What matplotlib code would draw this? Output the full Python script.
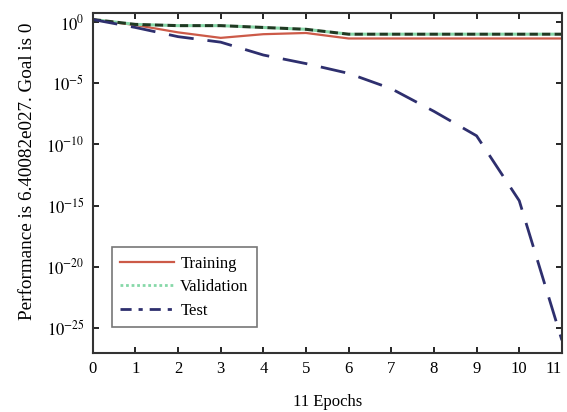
import numpy as np
import matplotlib
matplotlib.use("Agg")
import matplotlib.pyplot as plt
from matplotlib.lines import Line2D
from matplotlib.ticker import FixedLocator, FuncFormatter

plt.rcParams['font.family'] = ['Liberation Serif', 'DejaVu Serif']
plt.rcParams['mathtext.fontset'] = 'stix'
plt.rcParams['lines.scale_dashes'] = False

epochs = [0, 1, 2, 3, 4, 5, 6, 7, 8, 9, 10, 11]
# log10 of performance values
train_log = [0.2, -0.25, -0.85, -1.3, -1.0, -0.9, -1.35, -1.35, -1.35, -1.35, -1.35, -1.35]
val_log = [0.2, -0.2, -0.3, -0.3, -0.45, -0.6, -1.0, -1.0, -1.0, -1.0, -1.0, -1.0]
test_log = [0.2, -0.45, -1.2, -1.65, -2.7, -3.4, -4.2, -5.45, -7.3, -9.3, -14.6, -26.0]
ytick_exps = [0, -5, -10, -15, -20, -25]
xticks = list(range(12))

train = 10.0 ** np.array(train_log)
val = 10.0 ** np.array(val_log)
test = 10.0 ** np.array(test_log)

fig = plt.figure(figsize=(5.67, 4.12), dpi=100)
ax = fig.add_axes([0.1635, 0.1432, 0.8275, 0.8252])

c_train = '#cc5a48'
c_val = '#86d8a8'
c_test = '#2e2f6e'

ax.plot(epochs, train, color=c_train, lw=1.6)
ax.plot(epochs, val, color='#1f3a22', lw=2.2, linestyle=(0, (6, 3)), gapcolor=c_val)
ax.plot(epochs, test, color=c_test, lw=2.0, linestyle=(0, (18, 10)))

ax.set_yscale('log')
ax.set_xlim(0, 11)
ax.set_ylim(10 ** -27.04, 10 ** 0.73)
ax.yaxis.set_major_locator(FixedLocator([10.0 ** e for e in ytick_exps]))
ax.yaxis.set_minor_locator(FixedLocator([]))
ax.yaxis.set_major_formatter(FuncFormatter(lambda v, p: r'$10^{%d}$' % round(np.log10(v))))
ax.set_xticks(xticks)

ax.tick_params(axis='both', which='both', direction='in', top=True, right=True,
               length=4, width=1.2, labelsize=12, pad=6)
xlabels = ax.get_xticklabels()
xlabels[-1].set_horizontalalignment('right')
for s in ax.spines.values():
    s.set_linewidth(1.5)
    s.set_color('#333333')

ax.set_xlabel('11 Epochs', fontsize=12, labelpad=12)
ax.set_ylabel('Performance is 6.40082e027. Goal is 0', fontsize=13.8)
ax.yaxis.set_label_coords(-0.121, 0.535)

handles = [
    Line2D([], [], color=c_train, lw=1.6),
    Line2D([], [], color=c_val, lw=2.0, linestyle=(0, (2, 2))),
    Line2D([], [], color=c_test, lw=2.0, linestyle=(0, (8, 5, 3, 5))),
]
leg = ax.legend(handles, ['Training', 'Validation', 'Test'], loc='lower left',
                bbox_to_anchor=(0.041, 0.076), fontsize=12, frameon=True, fancybox=False,
                edgecolor='#555555', handlelength=3.2, handletextpad=0.4,
                labelspacing=0.45, borderpad=0.5, borderaxespad=0)
leg.get_frame().set_linewidth(1.2)

fig.savefig('out.png', dpi=100)
